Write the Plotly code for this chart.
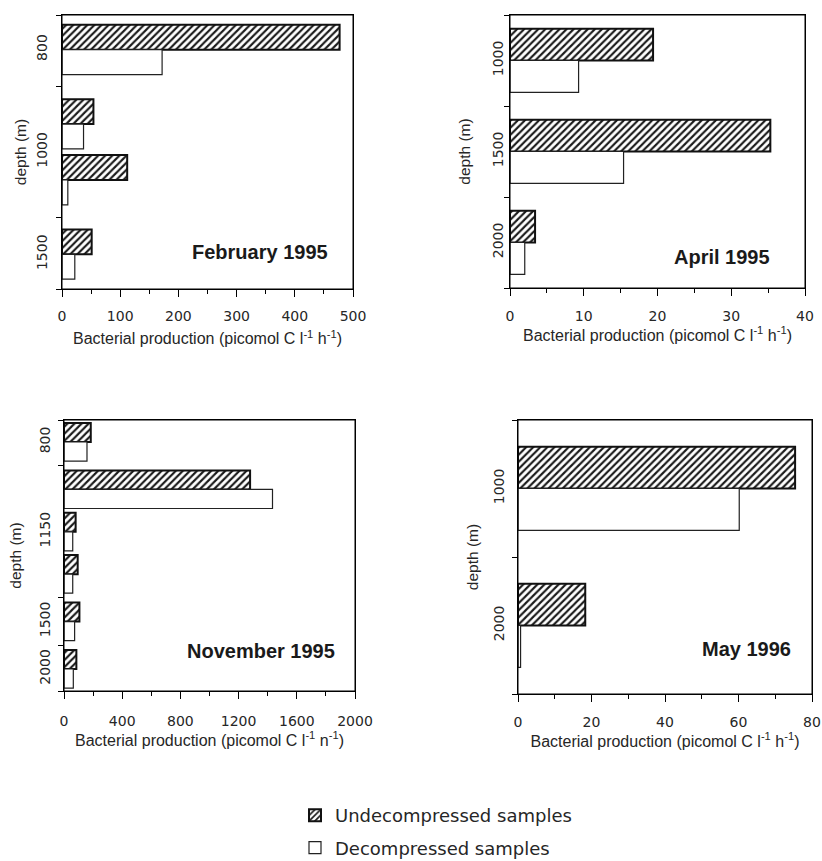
import plotly.graph_objects as go

# ---------------- data ----------------
feb_depth = ["800", "1000", "1000", "1500"]
feb_undec = [477, 54, 112, 51]
feb_dec = [172, 37, 10, 22]

apr_depth = ["1000", "1500", "2000"]
apr_undec = [19.4, 35.3, 3.4]
apr_dec = [9.3, 15.4, 2.0]

nov_depth = ["800", "1150", "1150", "1150", "1500", "2000"]
nov_undec = [184, 1279, 80, 94, 106, 85]
nov_dec = [158, 1433, 60, 60, 73, 64]

may_depth = ["1000", "2000"]
may_undec = [75.4, 18.3]
may_dec = [60.2, 0.7]

series_names = ["Undecompressed samples", "Decompressed samples"]
panel_titles = ["February 1995", "April 1995", "November 1995", "May 1996"]
x_titles = [
    "Bacterial production (picomol C l<sup>-1</sup> h<sup>-1</sup>)",
    "Bacterial production (picomol C l<sup>-1</sup> h<sup>-1</sup>)",
    "Bacterial production (picomol C l<sup>-1</sup> n<sup>-1</sup>)",
    "Bacterial production (picomol C l<sup>-1</sup> h<sup>-1</sup>)",
]

# ---------------- layout / style ----------------
W, H = 822, 861
TXT = "#262626"
NUMFONT = "DejaVu Sans"
SANS = "Liberation Sans, Arial, sans-serif"

panels = [
    dict(depth=feb_depth, undec=feb_undec, dec=feb_dec, box=(62, 353, 15, 289),
         gap=0.33, pad=0.62, w=0.445, xmax=500, dtick=100, lab=(0.921, 0.135),
         ystand=8, ytitle=3, xtstand=7, xtitle=10),
    dict(depth=apr_depth, undec=apr_undec, dec=apr_dec, box=(510, 805, 15, 288),
         gap=0.0, pad=0.5, w=0.35, xmax=40, dtick=10, lab=(0.888, 0.114),
         ystand=0, ytitle=15, xtstand=8, xtitle=2),
    dict(depth=nov_depth, undec=nov_undec, dec=nov_dec, box=(64, 355, 420, 691),
         gap=0.12, pad=0.52, w=0.45, xmax=2000, dtick=400, lab=(0.938, 0.148),
         ystand=7, ytitle=11, xtstand=10, xtitle=0),
    dict(depth=may_depth, undec=may_undec, dec=may_dec, box=(518, 812, 420, 694),
         gap=0.0, pad=0.5, w=0.305, xmax=80, dtick=20, lab=(0.935, 0.164),
         ystand=7, ytitle=8, xtstand=8, xtitle=1),
]


def positions(depths, gap):
    pos, p = [], 0.0
    for i, d in enumerate(depths):
        if i > 0:
            p += 1 + (gap if d != depths[i - 1] else 0)
        pos.append(p)
    return pos


fig = go.Figure()
layout = dict(
    width=W, height=H, margin=dict(l=0, r=0, t=0, b=0, autoexpand=False),
    paper_bgcolor="white", plot_bgcolor="white",
    barmode="overlay", font=dict(family=SANS, color=TXT),
    annotations=[], shapes=[],
)

for k, p in enumerate(panels, start=1):
    sfx = "" if k == 1 else str(k)
    xa, ya = "x" + sfx, "y" + sfx
    xl, xr, yt, yb = p["box"]
    pos = positions(p["depth"], p["gap"])
    lo, hi = pos[0] - p["pad"], pos[-1] + p["pad"]

    # group label positions and group boundaries
    groups = []
    for d, v in zip(p["depth"], pos):
        if groups and groups[-1][0] == d:
            groups[-1][1].append(v)
        else:
            groups.append((d, [v]))
    lab_vals = [sum(v) / len(v) for _, v in groups]
    lab_text = [d for d, _ in groups]
    bounds = [lo, hi] + [(pos[i - 1] + pos[i]) / 2
                         for i in range(1, len(pos)) if p["depth"][i] != p["depth"][i - 1]]

    fig.add_trace(go.Bar(
        y=pos, x=p["undec"], orientation="h", xaxis=xa, yaxis=ya,
        width=p["w"], offset=-p["w"],
        name=series_names[0], legendgroup="u", showlegend=(k == 1),
        marker=dict(color="white", line=dict(color="#111111", width=2),
                    pattern=dict(shape="/", fgcolor="#1a1a1a", bgcolor="white",
                                 size=5, solidity=0.42, fillmode="replace")),
        hoverinfo="x",
    ))
    fig.add_trace(go.Bar(
        y=pos, x=p["dec"], orientation="h", xaxis=xa, yaxis=ya,
        width=p["w"], offset=0,
        name=series_names[1], legendgroup="d", showlegend=(k == 1),
        marker=dict(color="white", line=dict(color="#222222", width=1.2)),
        hoverinfo="x",
    ))

    layout["xaxis" + sfx] = dict(
        domain=[xl / W, xr / W], anchor=ya, range=[0, p["xmax"]], automargin=False,
        tickmode="linear", tick0=0, dtick=p["dtick"],
        ticks="outside", ticklen=7, tickwidth=1, tickcolor="black",
        minor=dict(dtick=p["dtick"] / 2, tick0=0, ticks="outside", ticklen=4,
                   tickcolor="black", tickwidth=1, showgrid=False),
        showline=True, linecolor="black", linewidth=1, mirror=True,
        showgrid=False, zeroline=False,
        tickfont=dict(family=NUMFONT, size=14, color=TXT),
        ticklabelstandoff=p["xtstand"],
        title=dict(text=x_titles[k - 1], font=dict(family=SANS, size=16, color=TXT),
                   standoff=p["xtitle"]),
    )
    layout["yaxis" + sfx] = dict(
        domain=[1 - yb / H, 1 - yt / H], anchor=xa, range=[hi, lo], automargin=False,
        tickmode="array", tickvals=lab_vals, ticktext=lab_text, ticks="",
        tickangle=-90,
        minor=dict(tickmode="array", tickvals=bounds, ticks="outside", ticklen=5,
                   tickcolor="black", tickwidth=1, showgrid=False),
        showline=True, linecolor="black", linewidth=1, mirror=True,
        showgrid=False, zeroline=False,
        tickfont=dict(family=NUMFONT, size=14, color=TXT),
        ticklabelstandoff=p["ystand"],
        title=dict(text="depth (m)", font=dict(family=SANS, size=15.5, color=TXT),
                   standoff=p["ytitle"]),
    )
    # plot frame
    layout["shapes"].append(dict(
        type="rect", xref=f"{xa} domain", yref=f"{ya} domain", x0=0, x1=1, y0=0, y1=1,
        line=dict(color="black", width=1), fillcolor="rgba(0,0,0,0)", layer="above",
    ))
    layout["annotations"].append(dict(
        text=f"<b>{panel_titles[k - 1]}</b>", xref=f"{xa} domain", yref=f"{ya} domain",
        x=p["lab"][0], y=p["lab"][1], xanchor="right", yanchor="middle",
        showarrow=False, font=dict(family=SANS, size=20, color="#1a1a1a"),
    ))

layout["legend"] = dict(
    x=295 / W, y=1 - 797 / H, xanchor="left", yanchor="top",
    font=dict(family=NUMFONT, size=18, color=TXT),
    tracegroupgap=6, bgcolor="rgba(0,0,0,0)",
)
fig.update_layout(**layout)
fig.write_html(
    "out.html",
    config={"displayModeBar": False},
    post_script="document.body.style.margin='0';document.body.style.overflow='hidden';",
)
